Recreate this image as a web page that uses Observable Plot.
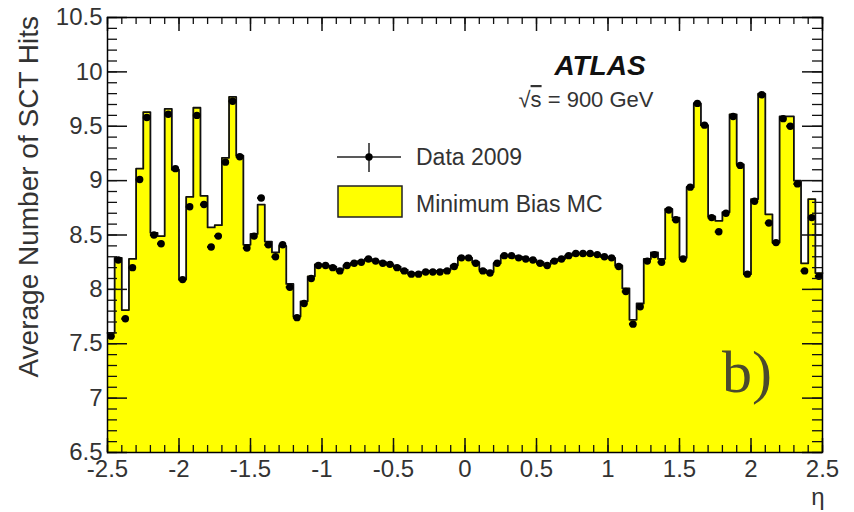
<!DOCTYPE html>
<html><head><meta charset="utf-8">
<script src="https://cdn.jsdelivr.net/npm/d3@7"></script>
<script src="https://cdn.jsdelivr.net/npm/@observablehq/plot@0.6"></script>
<style>
body{margin:0;background:#fff}
#chart{position:relative;width:854px;height:512px;overflow:hidden}
</style>
</head><body><div id="chart"></div>
<script>
// ---- data ----
const etaMin = -2.5, etaMax = 2.5, binWidth = 0.05;
const dataHits = [
  7.57, 8.27, 7.73, 8.20, 9.01, 9.58, 8.50, 8.42, 9.61, 9.11, 8.09, 8.76, 9.60, 8.78, 8.39,
  8.49, 9.17, 9.73, 9.22, 8.38, 8.49, 8.84, 8.41, 8.30, 8.41, 8.02, 7.74, 7.87, 8.10,
  8.22, 8.22, 8.20, 8.17, 8.22, 8.24, 8.25, 8.28, 8.26, 8.24, 8.23, 8.20, 8.17, 8.14, 8.14,
  8.16, 8.16, 8.16, 8.17, 8.21, 8.29, 8.29, 8.24, 8.17, 8.15, 8.24, 8.31, 8.31, 8.29, 8.28,
  8.27, 8.24, 8.22, 8.26, 8.28, 8.31, 8.33, 8.33, 8.33, 8.32, 8.30, 8.29, 8.21,
  7.98, 7.68, 7.84, 8.26, 8.32, 8.25, 8.73, 8.64, 8.28, 8.94, 9.71, 9.51, 8.66, 8.53, 8.70,
  9.59, 9.14, 8.14, 8.81, 9.79, 8.61, 8.43, 9.57, 9.50, 8.97, 8.17, 8.66, 8.12
];
const mcHits = [
  7.60, 8.29, 7.81, 8.28, 9.11, 9.63, 8.52, 8.49, 9.66, 9.10, 8.09, 8.85, 9.67, 8.86, 8.57,
  8.59, 9.21, 9.77, 9.23, 8.41, 8.51, 8.78, 8.44, 8.34, 8.40, 8.05, 7.75, 7.89, 8.12,
  8.23, 8.22, 8.21, 8.18, 8.22, 8.24, 8.26, 8.28, 8.26, 8.25, 8.23, 8.21, 8.18, 8.15, 8.15,
  8.16, 8.17, 8.17, 8.18, 8.22, 8.29, 8.29, 8.25, 8.18, 8.16, 8.24, 8.31, 8.31, 8.30, 8.28,
  8.27, 8.25, 8.23, 8.26, 8.28, 8.31, 8.33, 8.33, 8.33, 8.32, 8.30, 8.29, 8.22,
  8.01, 7.72, 7.87, 8.28, 8.34, 8.28, 8.74, 8.66, 8.29, 8.94, 9.71, 9.51, 8.67, 8.63, 8.71,
  9.61, 9.15, 8.14, 8.83, 9.80, 8.69, 8.43, 9.59, 9.59, 9.00, 8.24, 8.83, 8.15
];
const xTicks = [-2.5, -2, -1.5, -1, -0.5, 0, 0.5, 1, 1.5, 2, 2.5];
const yTicks = [6.5, 7, 7.5, 8, 8.5, 9, 9.5, 10, 10.5];
const legendLabels = ["Data 2009", "Minimum Bias MC"];
const yTitle = "Average Number of SCT Hits";
const xTitle = "η";
const atlasLabel = "ATLAS";
const energyLabel = ["√", "s", " = 900 GeV"];
const panelLabel = "b)";

// ---- derived tables ----
const bins = dataHits.map((d, i) => ({
  x1: etaMin + i * binWidth, x2: etaMin + (i + 1) * binWidth,
  xc: etaMin + (i + 0.5) * binWidth, data: d, mc: mcHits[i]
}));
const steps = bins.map(b => ({x: b.x1, y: b.mc}));
steps.push({x: etaMax, y: mcHits[mcHits.length - 1]});
const yMin = yTicks[0], yMax = yTicks[yTicks.length - 1];
const xMinor = d3.range(-25, 26).map(i => i / 10);
const yMinor = d3.range(65, 106).map(i => i / 10);

const W = 854, H = 512, mL = 107, mR = 32, mT = 17, mB = 60;
const pw = W - mL - mR, ph = H - mT - mB;
const font = "'Liberation Sans', Arial, Helvetica, sans-serif";
const tickCol = "#111";

const chart = Plot.plot({
  width: W, height: H, marginLeft: mL, marginRight: mR, marginTop: mT, marginBottom: mB,
  style: {fontFamily: font, fontSize: "24px", color: "#333", background: "white", overflow: "visible"},
  x: {domain: [etaMin, etaMax], label: null},
  y: {domain: [yMin, yMax], label: null},
  marks: [
    Plot.areaY(steps, {x: "x", y1: () => yMin, y2: "y", curve: "step-after", fill: "#ffff00"}),
    Plot.line(steps, {x: "x", y: "y", curve: "step-after", stroke: "#111", strokeWidth: 1.8}),
    Plot.ruleY(bins, {x1: "x1", x2: "x2", y: "data", stroke: "#000", strokeWidth: 2.2}),
    Plot.dot(bins, {x: "xc", y: "data", r: 3.7, fill: "#000", stroke: "none"}),
    // ticks: bottom
    Plot.tickX(xMinor, {x: d => d, insetTop: ph - 7, stroke: tickCol, strokeWidth: 1.3}),
    Plot.tickX(xTicks, {x: d => d, insetTop: ph - 14, stroke: tickCol, strokeWidth: 1.5}),
    // top
    Plot.tickX(xMinor, {x: d => d, insetBottom: ph - 7, stroke: tickCol, strokeWidth: 1.3}),
    Plot.tickX(xTicks, {x: d => d, insetBottom: ph - 14, stroke: tickCol, strokeWidth: 1.5}),
    // left
    Plot.tickY(yMinor, {y: d => d, insetRight: pw - 10, stroke: tickCol, strokeWidth: 1.3}),
    Plot.tickY(yTicks, {y: d => d, insetRight: pw - 20, stroke: tickCol, strokeWidth: 1.5}),
    // right
    Plot.tickY(yMinor, {y: d => d, insetLeft: pw - 10, stroke: tickCol, strokeWidth: 1.3}),
    Plot.tickY(yTicks, {y: d => d, insetLeft: pw - 20, stroke: tickCol, strokeWidth: 1.5}),
    Plot.frame({stroke: "#000", strokeWidth: 1.5}),
    Plot.axisX({anchor: "bottom", ticks: xTicks, tickSize: 0, tickPadding: 7, tickFormat: d => String(d), fontSize: 24, fill: "#333", label: null}),
    Plot.axisY({anchor: "left", ticks: yTicks, tickSize: 0, tickPadding: 5, tickFormat: d => String(d), fontSize: 24, fill: "#333", label: null})
  ]
});
document.getElementById("chart").appendChild(chart);

// ---- annotations ----
const svg = d3.select(chart);
const g = svg.append("g").attr("font-family", font).attr("text-anchor", "start");
// y title
g.append("text").attr("transform", "translate(38,16) rotate(-90)")
  .attr("text-anchor", "end").attr("font-size", 28).attr("fill", "#333").text(yTitle);
// x title
g.append("text").attr("x", 818).attr("y", 505).attr("text-anchor", "middle")
  .attr("font-size", 24).attr("fill", "#333").text(xTitle);
// ATLAS
g.append("text").attr("x", 600).attr("y", 75).attr("text-anchor", "middle")
  .attr("font-size", 28).attr("font-weight", "bold").attr("font-style", "italic").attr("fill", "#111").text(atlasLabel);
const en = g.append("text").attr("x", 586).attr("y", 107).attr("text-anchor", "middle")
  .attr("font-size", 22).attr("fill", "#333");
en.append("tspan").text(energyLabel[0]);
en.append("tspan").style("text-decoration", "overline").text(energyLabel[1]);
en.append("tspan").text(energyLabel[2]);
// legend
g.append("line").attr("x1", 337).attr("x2", 401).attr("y1", 157).attr("y2", 157).attr("stroke", "#222").attr("stroke-width", 1.5);
g.append("line").attr("x1", 369).attr("x2", 369).attr("y1", 143).attr("y2", 172).attr("stroke", "#222").attr("stroke-width", 1.5);
g.append("circle").attr("cx", 369).attr("cy", 157).attr("r", 3.7).attr("fill", "#000");
g.append("rect").attr("x", 338).attr("y", 186).attr("width", 64).attr("height", 31)
  .attr("fill", "#ffff00").attr("stroke", "#222").attr("stroke-width", 1.5);
g.append("text").attr("x", 416).attr("y", 165).attr("font-size", 23).attr("fill", "#333").text(legendLabels[0]);
g.append("text").attr("x", 416).attr("y", 212).attr("font-size", 23).attr("fill", "#333").text(legendLabels[1]);
// panel label
g.append("text").attr("x", 722).attr("y", 392).attr("font-family", "'Liberation Serif', 'DejaVu Serif', serif")
  .attr("font-size", 60).attr("fill", "#4a4a2e").text(panelLabel);
</script>
</body></html>
